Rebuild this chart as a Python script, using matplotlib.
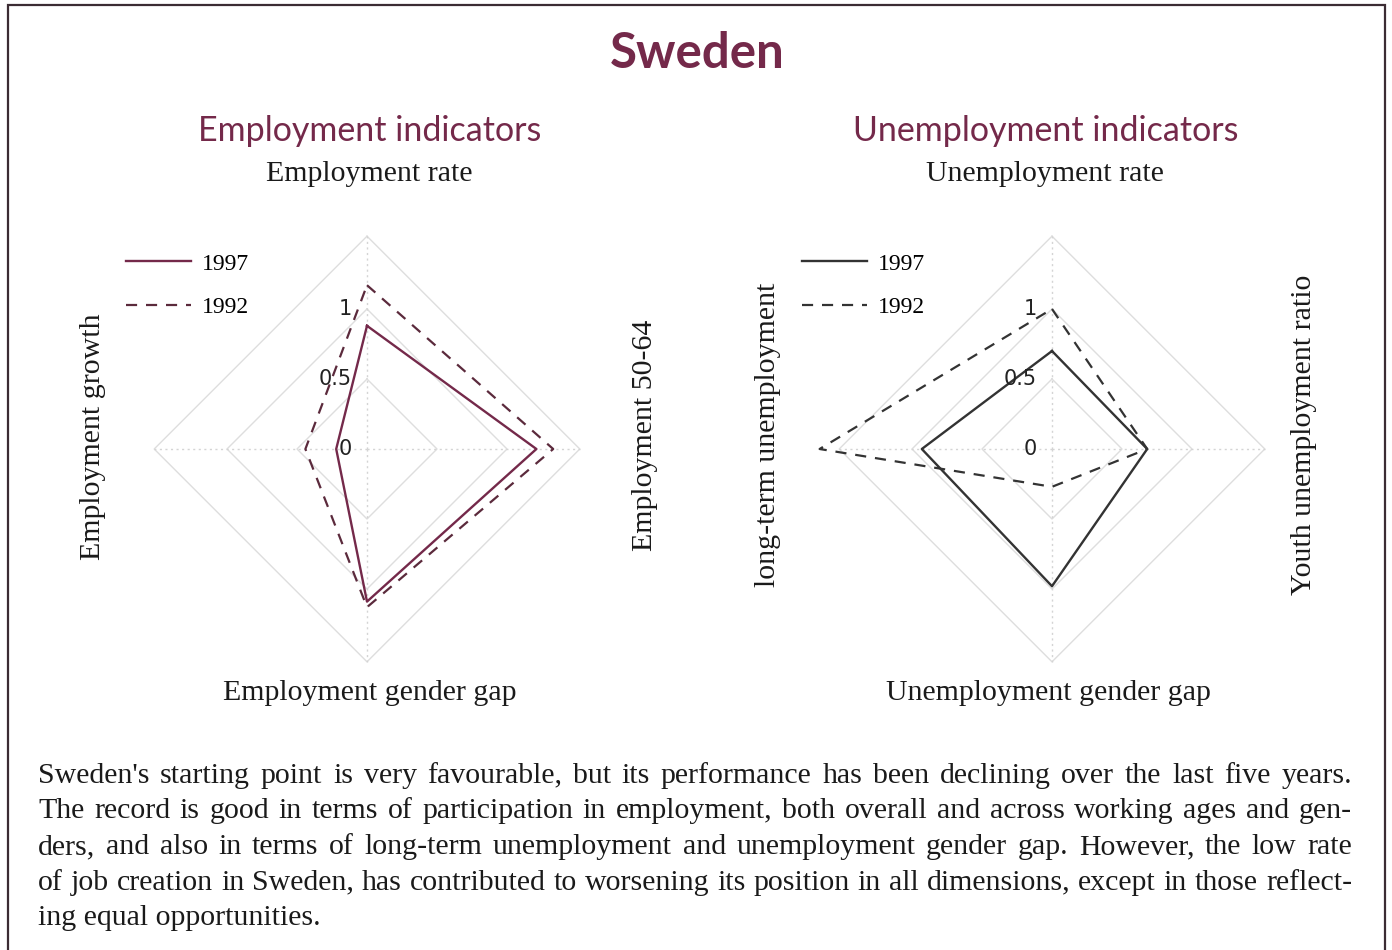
import numpy as np
import matplotlib
matplotlib.use('Agg')
import matplotlib.pyplot as plt
from matplotlib.patches import Rectangle

# values (order: top, right, bottom, left)
emp_axes = ['Employment rate', 'Employment 50-64', 'Employment gender gap', 'Employment growth']
emp_1997 = [0.88, 1.21, 1.09, 0.22]
emp_1992 = [1.17, 1.33, 1.13, 0.44]

unemp_axes = ['Unemployment rate', 'Youth unemployment ratio', 'Unemployment gender gap',
              'long-term unemployment']
unemp_1997 = [0.70, 0.68, 0.98, 0.93]
unemp_1992 = [1.00, 0.68, 0.27, 1.66]

ring_levels = [0.5, 1.0, 1.52]
tick_labels = ['0', '0.5', '1']
tick_values = [0.0, 0.5, 1.0]
years = ['1997', '1992']

body_lines = [
    "Sweden's starting point is very favourable, but its performance has been declining over the last five years.",
    "The record is good in terms of participation in employment, both overall and across working ages and gen-",
    "ders, and also in terms of long-term unemployment and unemployment gender gap. However, the low rate",
    "of job creation in Sweden, has contributed to worsening its position in all dimensions, except in those reflect-",
    "ing equal opportunities.",
]

W, H = 1392, 950
MAROON = '#74294a'
SERIF = 'Liberation Serif'
SANS_TITLE = 'Lato'

fig = plt.figure(figsize=(W / 100, H / 100), dpi=100)
fig.patch.set_facecolor('white')


def fx(px):
    return px / W


def fy(py):
    return 1 - py / H


RMAX = 1.7
UNIT = 140  # pixels per unit radius


def make_radar(cx, cy, v97, v92, c97, c92):
    half = RMAX * UNIT
    ax = fig.add_axes([fx(cx - half), fy(cy + half), 2 * half / W, 2 * half / H],
                      projection='polar')
    ax.set_theta_zero_location('N')
    ax.set_theta_direction(-1)
    ax.set_ylim(0, RMAX)
    ax.grid(False)
    ax.set_xticks([])
    ax.set_yticks([])
    ax.spines['polar'].set_visible(False)
    ax.patch.set_alpha(0)

    th = np.arange(4) * np.pi / 2
    th_c = np.append(th, th[0])
    for r in ring_levels:
        ax.plot(th_c, [r] * 5, color='#dedede', lw=1.0, zorder=1)
    for t in th:
        ax.plot([t, t], [0, ring_levels[-1]], color='#d4d4d4', lw=1.0,
                ls=(0, (1.5, 2.5)), zorder=1)

    l97, = ax.plot(th_c, list(v97) + [v97[0]], color=c97, lw=1.7, zorder=3)
    l92, = ax.plot(th_c, list(v92) + [v92[0]], color=c92, lw=1.6,
                   ls=(0, (5, 4)), zorder=3)

    for lab, v in zip(tick_labels, tick_values):
        ax.annotate(lab, xy=(0, v), xytext=(-11, 0), textcoords='offset points',
                    ha='right', va='center', fontsize=15, family='DejaVu Sans',
                    color='#222222', zorder=4, annotation_clip=False)
    return ax, l97, l92


axL, a97, a92 = make_radar(367, 449, emp_1997, emp_1992, MAROON, '#5b2a3c')
axR, b97, b92 = make_radar(1052, 449, unemp_1997, unemp_1992, '#333333', '#333333')

for ax, lines, x0 in [(axL, (a97, a92), 126), (axR, (b97, b92), 802)]:
    ax.legend(lines, years, loc='upper left', bbox_to_anchor=(fx(x0), fy(253)),
              bbox_transform=fig.transFigure, frameon=False, borderpad=0,
              borderaxespad=0, handlelength=2.75, handletextpad=0.45,
              labelspacing=0.95, prop={'family': SERIF, 'size': 17})

# titles
fig.text(fx(697), fy(54), 'Sweden', ha='center', va='center', fontsize=35.5,
         fontweight='bold', family=SANS_TITLE, color=MAROON)
fig.text(fx(370), fy(131), 'Employment indicators', ha='center', va='center',
         fontsize=24.5, family=SANS_TITLE, color=MAROON)
fig.text(fx(1046), fy(131), 'Unemployment indicators', ha='center', va='center',
         fontsize=24.5, family=SANS_TITLE, color=MAROON)

# axis names
lab_kw = dict(fontsize=21.5, family=SERIF, color='#1a1a1a', ha='center', va='center')
fig.text(fx(369), fy(174), emp_axes[0], **lab_kw)
fig.text(fx(645), fy(435), emp_axes[1], rotation=90, **lab_kw)
fig.text(fx(370), fy(693), emp_axes[2], **lab_kw)
fig.text(fx(93), fy(437), emp_axes[3], rotation=90, **lab_kw)

fig.text(fx(1045), fy(174), unemp_axes[0], **lab_kw)
fig.text(fx(1304), fy(435), unemp_axes[1], rotation=90, **lab_kw)
fig.text(fx(1048), fy(693), unemp_axes[2], **lab_kw)
fig.text(fx(768), fy(435), unemp_axes[3], rotation=90, **lab_kw)

# justified body text
renderer = fig.canvas.get_renderer()
x_left, x_right = 38, 1352
body_kw = dict(ha='left', va='center', fontsize=21.5, family=SERIF, color='#1a1a1a')
for i, line in enumerate(body_lines):
    y = fy(776 + i * 35.5)
    words = line.split()
    if i == len(body_lines) - 1:
        fig.text(fx(x_left), y, line, **body_kw)
        continue
    texts = [fig.text(0, y, w, **body_kw) for w in words]
    widths = [t.get_window_extent(renderer).width for t in texts]
    gap = (x_right - x_left - sum(widths)) / (len(words) - 1)
    x = x_left
    for t, wd in zip(texts, widths):
        t.set_x(fx(x))
        x += wd + gap

# outer frame
fig.add_artist(Rectangle((fx(8), -0.02), fx(1385 - 8), fy(5) + 0.02,
                         transform=fig.transFigure, fill=False,
                         edgecolor='#3b2c33', lw=1.6))

fig.savefig('out.png', dpi=100)
